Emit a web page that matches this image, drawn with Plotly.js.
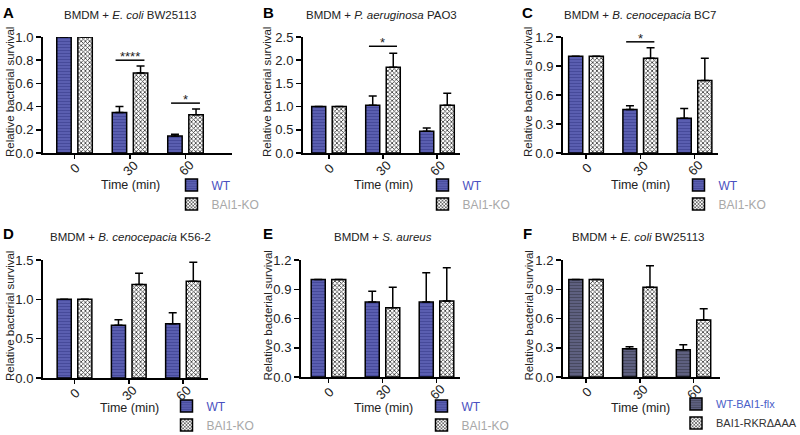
<!DOCTYPE html>
<html><head><meta charset="utf-8">
<script src="https://cdn.plot.ly/plotly-3.0.1.min.js"></script>
<style>html,body{margin:0;padding:0;background:#fff}#chart{width:800px;height:435px}</style>
</head><body><div id="chart"></div>
<script>
// ---------- DATA ----------
const times = ['0', '30', '60'];

// A: BMDM + E. coli BW25113
const aWT = [1.0, 0.35, 0.147], aWTerr = [0, 0.05, 0.015];
const aKO = [1.0, 0.69, 0.33],  aKOerr = [0, 0.06, 0.05];
const aSigIdx = [1, 2], aSigY = [0.80, 0.43], aSigLbl = ['****', '*'];

// B: BMDM + P. aeruginosa PAO3
const bWT = [1.0, 1.03, 0.47], bWTerr = [0, 0.20, 0.07];
const bKO = [1.0, 1.85, 1.03], bKOerr = [0, 0.30, 0.26];
const bSigIdx = [1], bSigY = [2.30], bSigLbl = ['*'];

// C: BMDM + B. cenocepacia BC7
const cWT = [1.0, 0.45, 0.36], cWTerr = [0, 0.04, 0.10];
const cKO = [1.0, 0.98, 0.75], cKOerr = [0, 0.11, 0.23];
const cSigIdx = [1], cSigY = [1.15], cSigLbl = ['*'];

// D: BMDM + B. cenocepacia K56-2
const dWT = [1.0, 0.67, 0.69], dWTerr = [0, 0.07, 0.14];
const dKO = [1.0, 1.19, 1.23], dKOerr = [0, 0.14, 0.24];
const dSigIdx = [], dSigY = [], dSigLbl = [];

// E: BMDM + S. aureus
const eWT = [1.0, 0.77, 0.77], eWTerr = [0, 0.11, 0.30];
const eKO = [1.0, 0.71, 0.78], eKOerr = [0, 0.21, 0.34];
const eSigIdx = [], eSigY = [], eSigLbl = [];

// F: BMDM + E. coli BW25113 (WT-BAI1-flx vs BAI1-RKRΔAAA)
const fWT = [1.0, 0.29, 0.28],  fWTerr = [0, 0.02, 0.05];
const fKO = [1.0, 0.92, 0.585], fKOerr = [0, 0.22, 0.115];
const fSigIdx = [1], fSigY = [1.21], fSigLbl = ['*'];

const nameWT = 'WT', nameKO = 'BAI1-KO';
const nameFlx = 'WT-BAI1-flx', nameRKR = 'BAI1-RKRΔAAA';
const yTitle = 'Relative bacterial survival', xTitle = 'Time (min)';

// ---------- LAYOUT / STYLE ----------
const W = 800, H = 435;
const px = x => x / W, py = y => 1 - y / H;
const FONT = '"Liberation Sans", Arial, Helvetica, sans-serif';
const TXT = '#222';

const panels = [
  {id:'A', wt:aWT, wtE:aWTerr, ko:aKO, koE:aKOerr, sI:aSigIdx, sY:aSigY, sL:aSigLbl,
   x0:43, x1:232, y0:37, y1:153, xr:[-0.568, 2.838], ymax:1.0, dt:0.2,
   title:'BMDM + <i>E. coli</i> BW25113', tX:130, tY:15, lX:8, lY:12, ytX:10, xtX:130, xtY:185,
   legL:171.5, legT:170.5, legF:12, nWT:nameWT, nKO:nameKO, wtCol:'#5a5eb0', wtFg:'#464a9a', wtTxt:'#4a50c0', koTxt:'#a8a8a8'},
  {id:'B', wt:bWT, wtE:bWTerr, ko:bKO, koE:bKOerr, sI:bSigIdx, sY:bSigY, sL:bSigLbl,
   x0:303, x1:460, y0:37, y1:153, xr:[-0.481, 2.426], ymax:2.5, dt:0.5,
   title:'BMDM + <i>P. aeruginosa</i> PAO3', tX:381, tY:15, lX:268, lY:12, ytX:267, xtX:383, xtY:185,
   legL:422.5, legT:170.5, legF:12, nWT:nameWT, nKO:nameKO, wtCol:'#5a5eb0', wtFg:'#464a9a', wtTxt:'#4a50c0', koTxt:'#a8a8a8'},
  {id:'C', wt:cWT, wtE:cWTerr, ko:cKO, koE:cKOerr, sI:cSigIdx, sY:cSigY, sL:cSigLbl,
   x0:563, x1:718, y0:37, y1:153, xr:[-0.424, 2.433], ymax:1.2, dt:0.3,
   title:'BMDM + <i>B. cenocepacia</i> BC7', tX:640, tY:15, lX:527, lY:12, ytX:528, xtX:640, xtY:185,
   legL:678.5, legT:170.5, legF:12, nWT:nameWT, nKO:nameKO, wtCol:'#5a5eb0', wtFg:'#464a9a', wtTxt:'#4a50c0', koTxt:'#a8a8a8'},
  {id:'D', wt:dWT, wtE:dWTerr, ko:dKO, koE:dKOerr, sI:dSigIdx, sY:dSigY, sL:dSigLbl,
   x0:43, x1:208, y0:260, y1:378, xr:[-0.581, 2.461], ymax:1.5, dt:0.5,
   title:'BMDM + <i>B. cenocepacia</i> K56-2', tX:130, tY:237, lX:8, lY:234, ytX:10, xtX:129, xtY:408,
   legL:166.5, legT:391.5, legF:12, nWT:nameWT, nKO:nameKO, wtCol:'#5a5eb0', wtFg:'#464a9a', wtTxt:'#4a50c0', koTxt:'#a8a8a8'},
  {id:'E', wt:eWT, wtE:eWTerr, ko:eKO, koE:eKOerr, sI:eSigIdx, sY:eSigY, sL:eSigLbl,
   x0:301, x1:460, y0:260, y1:377, xr:[-0.509, 2.435], ymax:1.2, dt:0.3,
   title:'BMDM + <i>S. aureus</i>', tX:383, tY:237, lX:268, lY:234, ytX:267, xtX:383, xtY:408,
   legL:421.5, legT:391.5, legF:12, nWT:nameWT, nKO:nameKO, wtCol:'#5a5eb0', wtFg:'#464a9a', wtTxt:'#4a50c0', koTxt:'#a8a8a8'},
  {id:'F', wt:fWT, wtE:fWTerr, ko:fKO, koE:fKOerr, sI:fSigIdx, sY:fSigY, sL:fSigLbl,
   x0:563, x1:720, y0:260, y1:377, xr:[-0.428, 2.493], ymax:1.2, dt:0.3,
   title:'BMDM + <i>E. coli</i> BW25113', tX:638, tY:237, lX:527, lY:234, ytX:528, xtX:640, xtY:408,
   legL:676, legT:389.5, legF:11, nWT:nameFlx, nKO:nameRKR, wtCol:'#5e6080', wtFg:'#474960', wtTxt:'#4a5ec8', koTxt:'#333333'}
];

const traces = [];
const layout = {
  width: W, height: H, margin: {l:0, r:0, t:0, b:0, autoexpand: false},
  paper_bgcolor: '#fff', plot_bgcolor: 'rgba(0,0,0,0)',
  barmode: 'overlay', font: {family: FONT, color: TXT, size: 12},
  showlegend: true, annotations: []
};

const BW = 0.26, OFF = 0.19, SIGHALF = 0.26;

panels.forEach((p, i) => {
  const k = i === 0 ? '' : String(i + 1);
  const xa = 'x' + k, ya = 'y' + k, lg = 'legend' + k;
  const idx = times.map((t, j) => j);
  const zeros = times.map(() => 0);
  traces.push({
    type: 'bar', x: idx, y: p.wt, xaxis: xa, yaxis: ya, legend: lg,
    name: '<span style="color:' + p.wtTxt + '">' + p.nWT + '</span>',
    width: BW, offset: -OFF - BW / 2,
    marker: {color: p.wtCol, line: {color: '#000', width: 1.5},
             pattern: {shape: '-', fgcolor: p.wtFg, bgcolor: p.wtCol, size: 3, solidity: 0.35}},
    error_y: {type: 'data', symmetric: false, array: p.wtE, arrayminus: zeros, color: '#000', thickness: 1.5, width: 4},
    hoverinfo: 'skip'
  });
  traces.push({
    type: 'bar', x: idx, y: p.ko, xaxis: xa, yaxis: ya, legend: lg,
    name: '<span style="color:' + p.koTxt + '">' + p.nKO + '</span>',
    width: BW, offset: OFF - BW / 2,
    marker: {color: '#ffffff', line: {color: '#000', width: 1.5},
             pattern: {shape: 'x', fgcolor: '#333333', bgcolor: '#ffffff', size: 3, solidity: 0.45}},
    error_y: {type: 'data', symmetric: false, array: p.koE, arrayminus: zeros, color: '#000', thickness: 1.5, width: 4},
    hoverinfo: 'skip'
  });
  p.sI.forEach((si, j) => {
    traces.push({
      type: 'scatter', mode: 'lines', x: [si - SIGHALF, si + SIGHALF], y: [p.sY[j], p.sY[j]],
      xaxis: xa, yaxis: ya, showlegend: false, cliponaxis: false, hoverinfo: 'skip',
      line: {color: '#000', width: 1.5}
    });
    layout.annotations.push({xref: xa, yref: ya, x: si, y: p.sY[j], text: p.sL[j], showarrow: false,
      xanchor: 'center', yanchor: 'bottom', yshift: -6, font: {size: 13, color: TXT}});
  });
  // rotated tick labels, centred under the ticks
  times.forEach((t, j) => {
    layout.annotations.push({xref: xa, yref: 'paper', x: idx[j], y: py(p.y1 + 15), text: t,
      showarrow: false, textangle: -45, xanchor: 'center', yanchor: 'middle', font: {size: 13, color: TXT}});
  });

  layout['xaxis' + k] = {
    domain: [px(p.x0), px(p.x1)], range: p.xr, anchor: ya,
    tickmode: 'array', tickvals: idx, ticktext: times, showticklabels: false,
    ticks: 'outside', ticklen: 4, tickwidth: 1.5, tickcolor: '#000',
    showline: true, linewidth: 2, linecolor: '#000', showgrid: false, zeroline: false,
    fixedrange: true
  };
  layout['yaxis' + k] = {
    domain: [py(p.y1), py(p.y0)], range: [0, p.ymax], anchor: xa,
    tickmode: 'linear', tick0: 0, dtick: p.dt, tickformat: '.1f',
    ticks: 'outside', ticklen: 5, tickwidth: 1.5, tickcolor: '#000',
    showline: true, linewidth: 2, linecolor: '#000', showgrid: false, zeroline: false,
    tickfont: {size: 13, color: TXT}, fixedrange: true
  };
  layout[lg] = {
    x: px(p.legL), xanchor: 'left', y: py(p.legT), yanchor: 'top',
    bgcolor: 'rgba(0,0,0,0)', borderwidth: 0, font: {size: p.legF, color: TXT},
    tracegroupgap: 0, itemclick: false, itemdoubleclick: false
  };
  // panel title, letter, axis titles
  layout.annotations.push({xref: 'paper', yref: 'paper', x: px(p.tX), y: py(p.tY), text: p.title,
    showarrow: false, xanchor: 'center', yanchor: 'middle', font: {size: 11.5, color: TXT}});
  layout.annotations.push({xref: 'paper', yref: 'paper', x: px(p.lX), y: py(p.lY), text: '<b>' + p.id + '</b>',
    showarrow: false, xanchor: 'center', yanchor: 'middle', font: {size: 15, color: '#000'}});
  layout.annotations.push({xref: 'paper', yref: 'paper', x: px(p.ytX), y: py((p.y0 + p.y1) / 2 - 3), text: yTitle,
    showarrow: false, textangle: -90, xanchor: 'center', yanchor: 'middle', font: {size: 11.5, color: TXT}});
  layout.annotations.push({xref: 'paper', yref: 'paper', x: px(p.xtX), y: py(p.xtY), text: xTitle,
    showarrow: false, xanchor: 'center', yanchor: 'middle', font: {size: 12.5, color: TXT}});
});

Plotly.newPlot('chart', traces, layout, {displayModeBar: false, staticPlot: true});
</script>
</body></html>
